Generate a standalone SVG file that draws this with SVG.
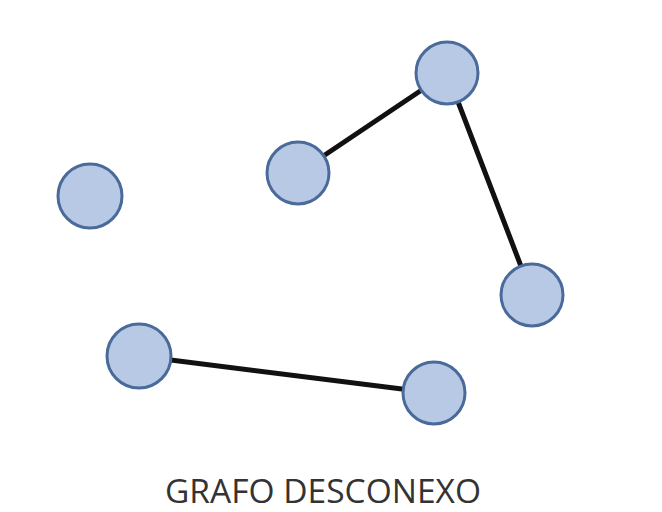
<svg xmlns="http://www.w3.org/2000/svg" width="662" height="512" viewBox="0 0 662 512">
<style>
.node circle{fill:#b7c9e5;stroke:#4a6a9a;stroke-width:3}
.edge{stroke:#111;stroke-width:5;stroke-linecap:round}
.label{font-family:"Open Sans","Liberation Sans",sans-serif;font-size:32px;fill:#333}
</style>
<rect width="662" height="512" fill="#fff"/>
<g id="connectors">
<line class="edge" x1="298" y1="173" x2="447" y2="73"/>
<line class="edge" x1="447" y1="73" x2="532" y2="295"/>
<line class="edge" x1="139" y1="356" x2="434" y2="393"/>
</g>
<g id="n1" class="node"><circle cx="90" cy="196" r="32"/></g>
<g id="n2" class="node"><circle cx="298" cy="173" r="31"/></g>
<g id="n3" class="node"><circle cx="447" cy="73" r="31"/></g>
<g id="n4" class="node"><circle cx="532" cy="295" r="31"/></g>
<g id="n5" class="node"><circle cx="139" cy="356" r="32"/></g>
<g id="n6" class="node"><circle cx="434" cy="393" r="31"/></g>
<text class="label" x="323" y="503" text-anchor="middle" textLength="316" lengthAdjust="spacingAndGlyphs">GRAFO DESCONEXO</text>
</svg>
